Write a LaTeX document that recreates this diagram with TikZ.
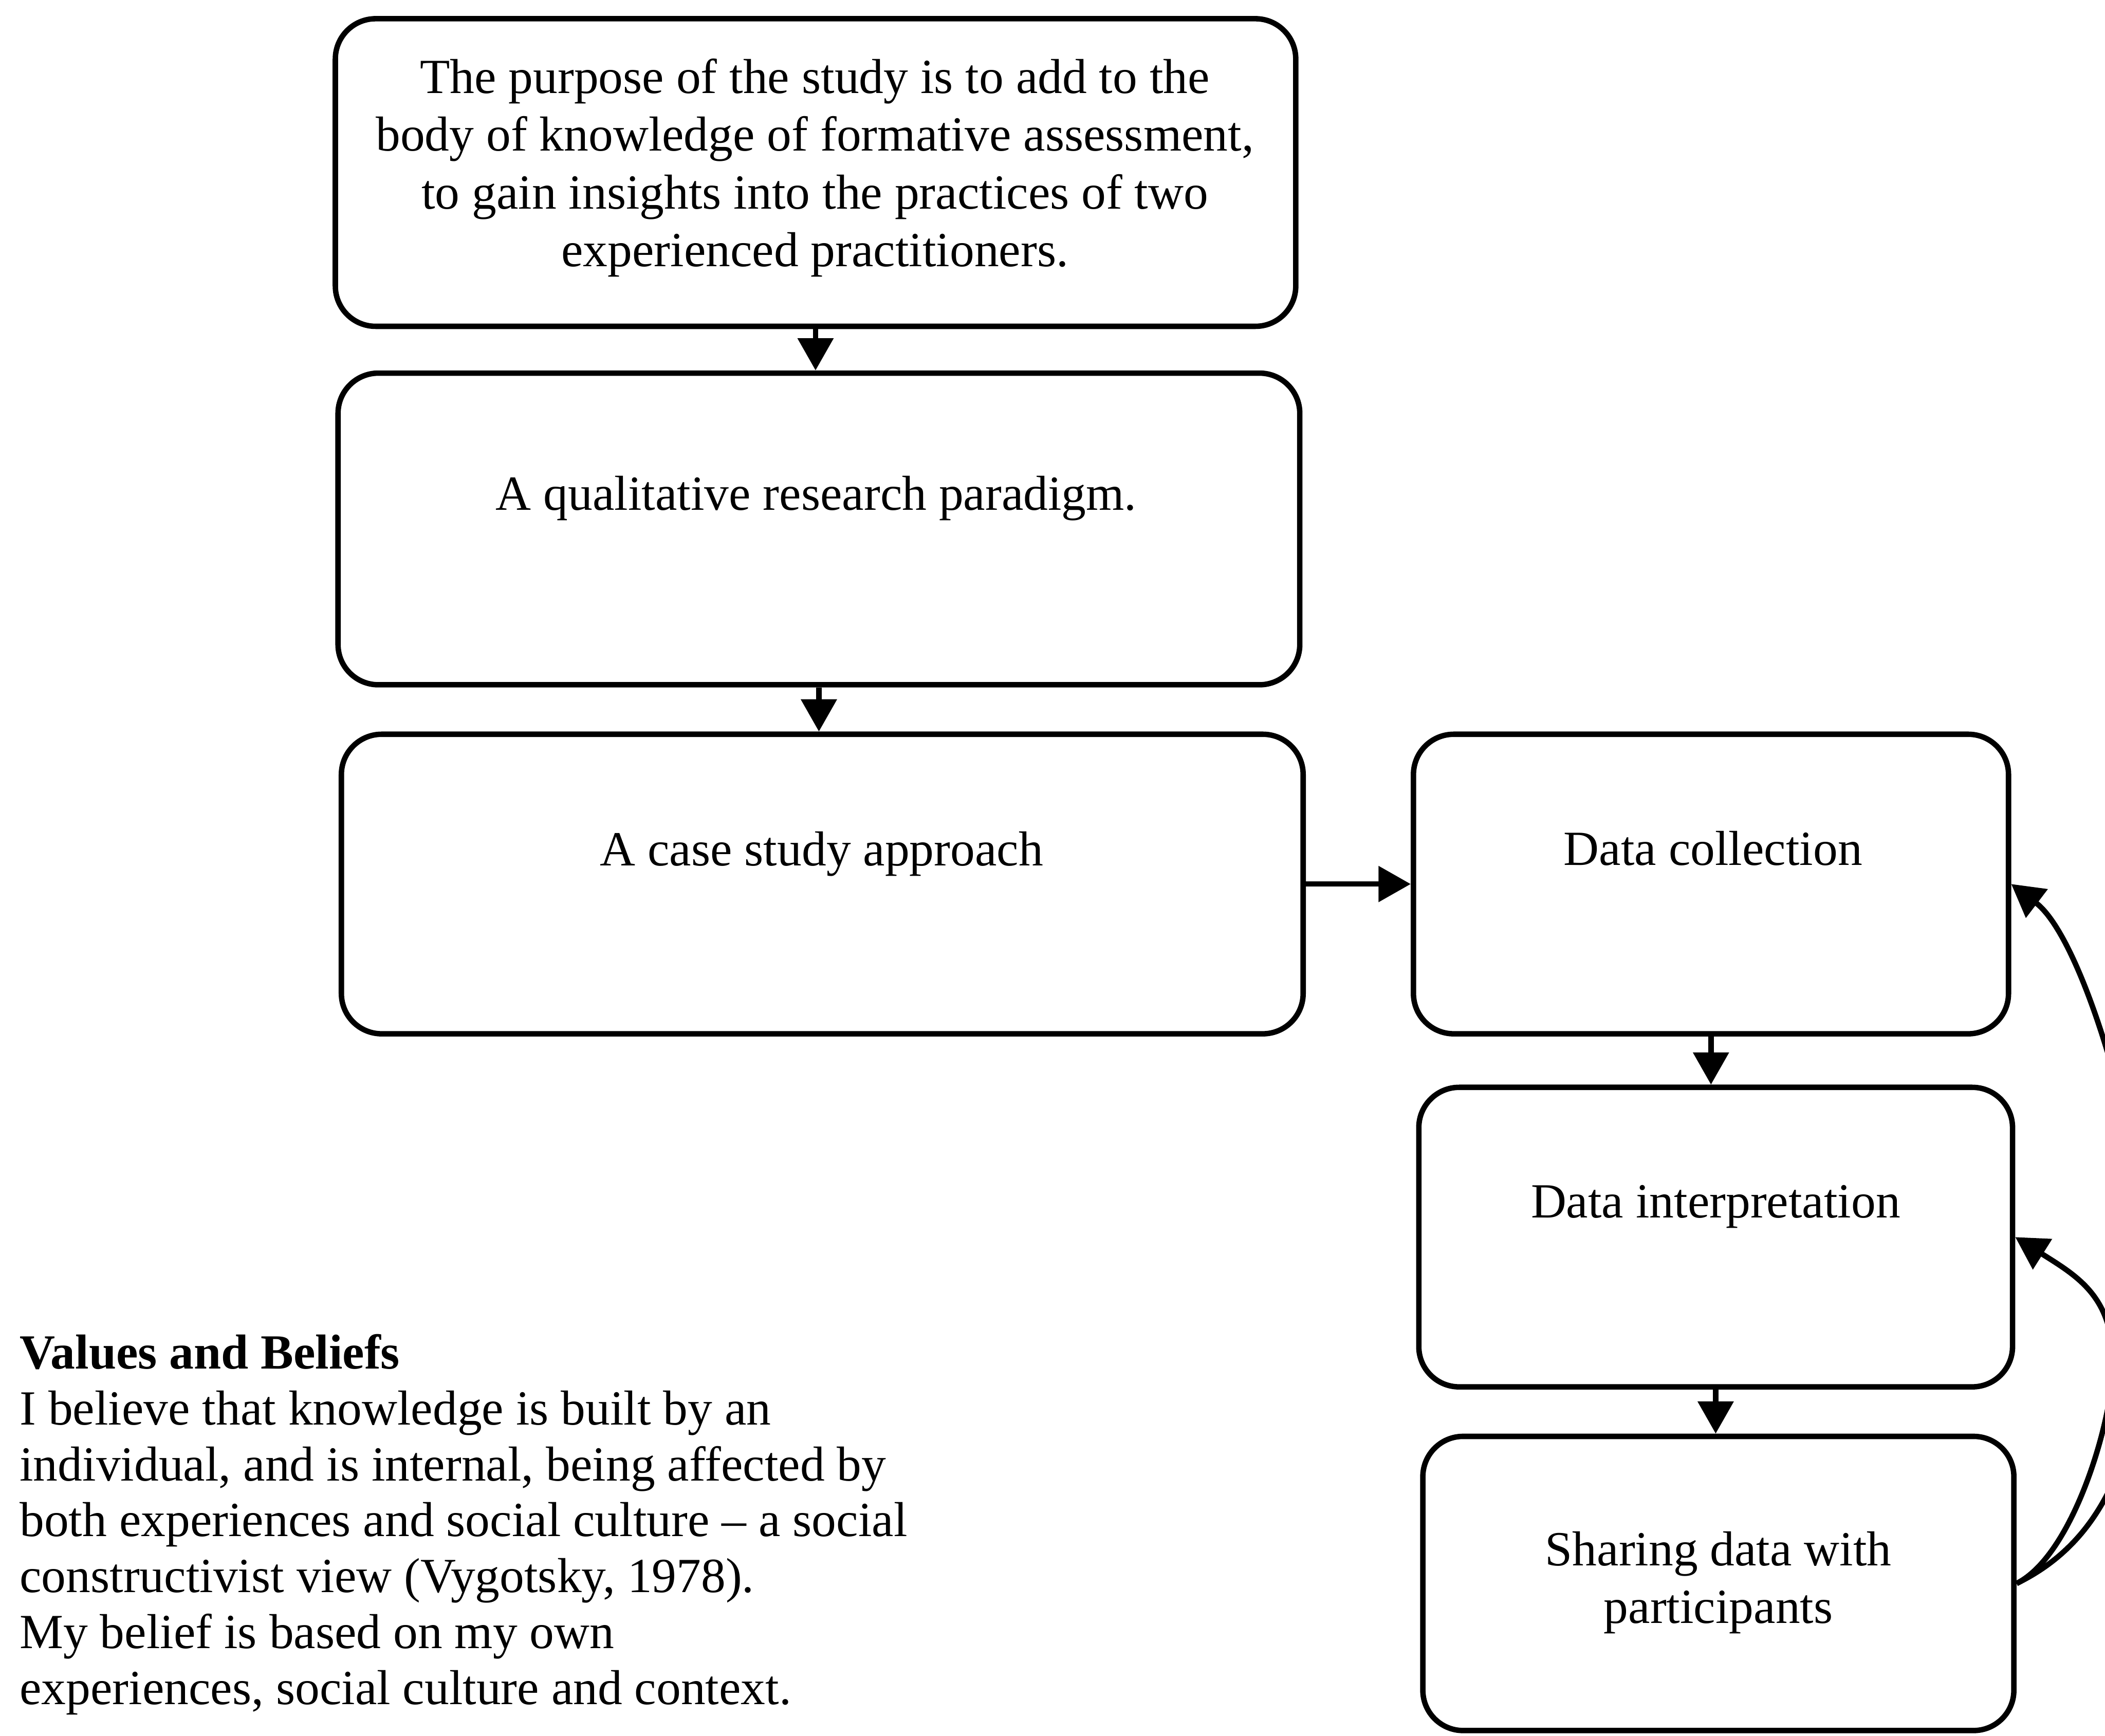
\documentclass[tikz,border=0pt]{standalone}
\usepackage{fontspec}
\setmainfont{Liberation Serif}
\usetikzlibrary{arrows.meta}

\begin{document}
\begin{tikzpicture}[x=0.01cm, y=-0.01cm,
    box/.style={draw, line width=1.15pt, rounded corners=0.3cm, inner sep=0pt},
    txt/.style={align=center, inner sep=0pt, font=\fontsize{10.4}{12.2}\selectfont},
    arr/.style={line width=1.15pt, -{Triangle[length=0.24cm, width=0.26cm]}},
    loop/.style={line width=1.15pt, -{Triangle[length=0.24cm, width=0.26cm]}}]

  \useasboundingbox (0,0) rectangle (1568,1293);

  % flow boxes
  \node[box, minimum width=7.15cm, minimum height=2.29cm] (b1) at (607.5,128.5) {};
  \node[box, minimum width=7.16cm, minimum height=2.32cm] (b2) at (610,394) {};
  \node[box, minimum width=7.16cm, minimum height=2.23cm] (b3) at (612.5,658.5) {};
  \node[box, minimum width=4.43cm, minimum height=2.23cm] (b4) at (1274.5,658.5) {};
  \node[box, minimum width=4.42cm, minimum height=2.23cm] (b5) at (1278,921.5) {};
  \node[box, minimum width=4.40cm, minimum height=2.19cm] (b6) at (1280,1179.5) {};

  % box texts
  \node[txt] (t1) at (607,125) {The purpose of the study is to add to the\\
    body of knowledge of formative assessment,\\
    to gain insights into the practices of two\\
    experienced practitioners.};
  \node[txt] (t2) at (608,371) {A qualitative research paradigm.};
  \node[txt] (t3) at (612,636) {A case study approach};
  \node[txt] (t4) at (1276,632) {Data collection};
  \node[txt] (t5) at (1278,899) {Data interpretation};
  \node[txt] (t6) at (1280,1179) {Sharing data with\\ participants};

  % values and beliefs
  \node[anchor=north west, align=left, inner sep=0pt,
        font=\fontsize{10.4}{11.86}\selectfont] (vb) at (14,993)
    {\textbf{Values and Beliefs}\\
     I believe that knowledge is built by an\\
     individual, and is internal, being affected by\\
     both experiences and social culture -- a social\\
     constructivist view (Vygotsky, 1978).\\
     My belief is based on my own\\
     experiences, social culture and context.};

  % straight connectors
  \draw[arr] (b1.south) -- (b1.south |- b2.north);
  \draw[arr] (b2.south) -- (b2.south |- b3.north);
  \draw[arr] (b3.east) -- (b4.west);
  \draw[arr] (b4.south) -- (b4.south |- b5.north);
  \draw[arr] (b5.south) -- (b5.south |- b6.north);

  % feedback loops leaving the right-hand edge
  \coordinate (pA) at (1600,950);
  \coordinate (pB) at (1574,1016);
  \draw[loop] (b6.east) .. controls (1554,1154) and (1600,1100) .. (pA)
              .. controls (1600,870) and (1554,701) .. (b4.east);
  \draw[loop] (b6.east) .. controls (1545,1158) and (1574,1056) .. (pB)
              .. controls (1574,966) and (1548,951) .. (b5.east);
\end{tikzpicture}
\end{document}
